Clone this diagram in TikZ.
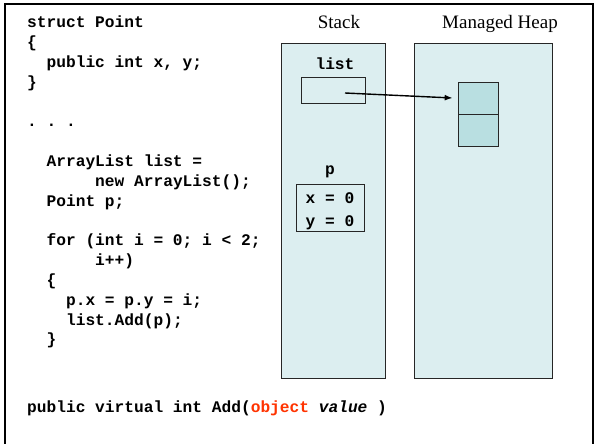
\documentclass[tikz,border=0pt]{standalone}
\usepackage{fontspec}
\setmainfont{Liberation Serif}
\setmonofont{Liberation Mono}
\usetikzlibrary{arrows.meta}
\definecolor{boxfill}{HTML}{DCEEF0}
\definecolor{cellfill}{HTML}{B9DFE1}
\definecolor{kwred}{HTML}{FF3300}
\newcommand\codef{\ttfamily\bfseries\fontsize{16.2}{19.8}\selectfont}
\tikzset{
  codeline/.style={font=\codef, anchor=base west, inner sep=0pt},
  title/.style={font=\fontsize{19}{22}\selectfont, anchor=base, inner sep=0pt},
  region/.style={draw=black!85, line width=0.9pt, fill=boxfill, inner sep=0pt},
  slot/.style={draw=black!85, line width=0.7pt, inner sep=0pt},
  cell/.style={draw=black!85, line width=0.7pt, fill=cellfill, inner sep=0pt, minimum width=40pt, minimum height=32pt},
  ptr/.style={line width=1.4pt, -{Latex[length=8pt,width=6pt]}}
}
\begin{document}
\begin{tikzpicture}[x=1pt,y=-1pt]
\useasboundingbox (0,0) rectangle (595,444);
\fill[white] (0,0) rectangle (595,444);
% outer frame
\draw[line width=2pt] (5,448) -- (5,4) -- (592.5,4) -- (592.5,448);
% code
\node[codeline] (l0)  at (27,28) {struct Point};
\node[codeline] (l1)  at (27,47.8) {\{};
\node[codeline] (l2)  at (46.44,67.6) {public int x, y;};
\node[codeline] (l3)  at (27,87.4) {\}};
\node[codeline] (l5)  at (27,127) {. . .};
\node[codeline] (l7)  at (46.44,166.6) {ArrayList list =};
\node[codeline] (l8)  at (95.04,186.4) {new ArrayList();};
\node[codeline] (l9)  at (46.44,206.2) {Point p;};
\node[codeline] (l11) at (46.44,245.8) {for (int i = 0; i < 2;};
\node[codeline] (l12) at (95.04,265.6) {i++)};
\node[codeline] (l13) at (46.44,285.4) {\{};
\node[codeline] (l14) at (65.88,305.2) {p.x = p.y = i;};
\node[codeline] (l15) at (65.88,325) {list.Add(p);};
\node[codeline] (l16) at (46.44,344.8) {\}};
\node[codeline] (sig) at (27,412) {public virtual int Add(\textcolor{kwred}{object} \textit{value} )};
% titles
\node[title] (tstack) at (339,29) {Stack};
\node[title] (theap) at (500,29) {Managed Heap};
% regions
\node[region, minimum width=104pt, minimum height=335pt] (stack) at (333,210.5) {};
\node[region, minimum width=138pt, minimum height=335pt] (heap) at (483,210.5) {};
% list variable
\node[codeline, anchor=base] (listlbl) at (335,70) {list};
\node[slot, minimum width=64pt, minimum height=26pt] (listbox) at (333,90) {};
\coordinate (listptr) at (345,93);
% p variable
\node[codeline, anchor=base] (plbl) at (330,175) {p};
\node[slot, minimum width=68pt, minimum height=47pt] (pbox) at (330,207.5) {};
\node[codeline, anchor=base] (px) at (330,203.5) {x = 0};
\node[codeline, anchor=base] (py) at (330,226) {y = 0};
% heap object
\node[cell] (cell1) at (478,98) {};
\node[cell] (cell2) at (478,130) {};
% pointer
\draw[ptr] (listptr) -- ([xshift=-5pt]cell1.west);
\end{tikzpicture}
\end{document}
